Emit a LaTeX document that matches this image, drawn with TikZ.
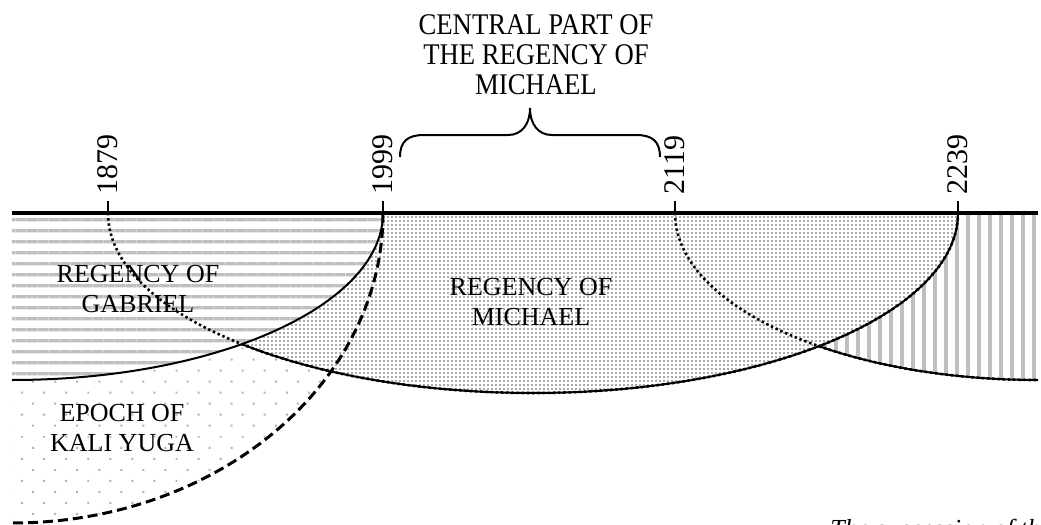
\documentclass[tikz,border=0pt]{standalone}
\usepackage{fontspec}
\setmainfont{Liberation Serif}
\newfontfamily\narrowserif[FakeStretch=0.89]{Liberation Serif}
\usetikzlibrary{patterns.meta}

\begin{document}
\begin{tikzpicture}[
x=0.5pt, y=-0.5pt,
axisline/.style={line width=2pt},
tick/.style={line width=1pt},
border/.style={line width=1pt},
hidden/.style={line width=1.3pt, dash pattern=on 1.2pt off 1.4pt},
kaliline/.style={line width=1.5pt, dash pattern=on 5pt off 2.5pt},
year/.style={rotate=90, anchor=west, inner sep=3pt,
font=\fontsize{15}{15}\selectfont},
region/.style={align=center, inner sep=0pt,
font=\fontsize{13}{15}\selectfont},
toplabel/.style={align=center, inner sep=0pt,
font=\narrowserif\fontsize{15}{15}\selectfont},
caption/.style={anchor=north west, inner sep=0pt,
font=\itshape\fontsize{13}{15}\selectfont},
gabrielfill/.style={fill=white,
postaction={pattern={Lines[angle=0, distance=5.4pt, line width=1.6pt]}, pattern color=black!25}},
michaelfill/.style={fill=white,
postaction={pattern={Dots[distance=2pt, radius=0.55pt]}, pattern color=black!45}},
urielfill/.style={fill=white,
postaction={pattern={Lines[angle=90, distance=5.5pt, line width=1.6pt]}, pattern color=black!25}},
kalifill/.style={fill=white,
postaction={pattern={Dots[distance=7.8pt, angle=45, radius=0.7pt]}, pattern color=black!30}}
]
\useasboundingbox (0,0) rectangle (1041,525);

% regions, lowest first
\fill[kalifill] (383,213) arc[start angle=0, end angle=90, x radius=371, y radius=310] -- (12,213) -- cycle;

\fill[urielfill] (675,213) arc[start angle=180, end angle=90, x radius=363, y radius=167] -- (1038,213) -- cycle;
\draw[border] (675,213) arc[start angle=180, end angle=90, x radius=363, y radius=167];

\fill[michaelfill] (108,213) arc[start angle=180, end angle=0, x radius=425, y radius=180] -- cycle;
\draw[border] (108,213) arc[start angle=180, end angle=0, x radius=425, y radius=180];

\fill[gabrielfill] (12,213) -- (383,213) arc[start angle=0, end angle=90, x radius=371, y radius=167] -- cycle;
\draw[border] (383,213) arc[start angle=0, end angle=90, x radius=371, y radius=167];

% hidden parts of the borders
\draw[hidden] (108,213) arc[start angle=180, end angle=0, x radius=425, y radius=180];
\draw[hidden] (675,213) arc[start angle=180, end angle=90, x radius=363, y radius=167];

\draw[kaliline] (383,213) arc[start angle=0, end angle=90, x radius=371, y radius=310];

% time axis
\draw[axisline] (12,213) -- (1038,213);
\draw[tick] (108,213) -- (108,201) node[year] (y1879) {1879};
\draw[tick] (383,213) -- (383,201) node[year] (y1999) {1999};
\draw[tick] (675,213) -- (675,201) node[year] (y2119) {2119};
\draw[tick] (958,213) -- (958,201) node[year] (y2239) {2239};

% central part
\draw[border] (400,157) .. controls (400,141) and (408,135) .. (424,135) -- (508,135)
.. controls (522,135) and (530,124) .. (530,108)
.. controls (530,124) and (538,135) .. (552,135) -- (636,135)
.. controls (652,135) and (660,141) .. (660,157);
\node[toplabel] (central) at (536,55) {CENTRAL PART OF\\THE REGENCY OF\\MICHAEL};

\node[region] (gabriel) at (138,289) {REGENCY OF\\GABRIEL};
\node[region] (michael) at (531,302) {REGENCY OF\\MICHAEL};
\node[region] (kali) at (122,428) {EPOCH OF\\KALI YUGA};

\node[caption] (succession) at (830,519) {The succession of the Archangels};
\end{tikzpicture}
\end{document}
